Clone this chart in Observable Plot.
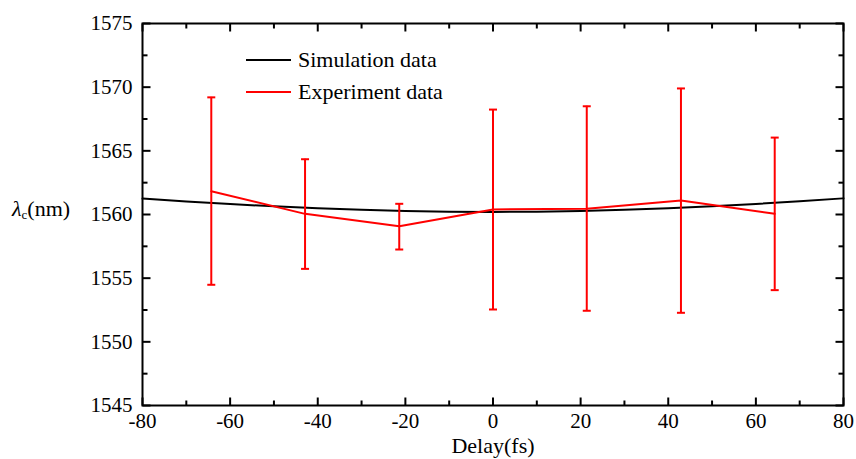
<!DOCTYPE html>
<html>
<head>
<meta charset="utf-8">
<script src="https://cdn.jsdelivr.net/npm/d3@7"></script>
<script src="https://cdn.jsdelivr.net/npm/@observablehq/plot@0.6"></script>
<style>
  html, body { margin: 0; padding: 0; background: #fff; }
  #wrap { position: relative; width: 856px; height: 459px; font-family: "Liberation Serif", serif; color: #000; }
  #wrap svg text { font-family: "Liberation Serif", serif !important; }
  #ylab { position: absolute; left: 12px; top: 196px; font-size: 22px; white-space: nowrap; }
  #ylab sub { font-size: 13px; vertical-align: -3px; }
  #legend { position: absolute; left: 246px; top: 44px; font-size: 22px; }
  #legend .row { display: flex; align-items: center; height: 32px; }
  #legend .sw { width: 45px; height: 0; border-top: 2px solid; margin-right: 7px; }
</style>
</head>
<body>
<div id="wrap"></div>
<script>
// Simulation data (Delay fs -> λc nm)
const simDelay = [-80, -70, -60, -50, -40, -30, -20, -10, 0, 10, 20, 30, 40, 50, 60, 70, 80];
const simLambda = [1561.25, 1561.02, 1560.82, 1560.64, 1560.49, 1560.37, 1560.28, 1560.22, 1560.2, 1560.22, 1560.28, 1560.37, 1560.5, 1560.65, 1560.83, 1561.04, 1561.27];

// Experiment data
const expDelay = [-64.3, -42.9, -21.4, 0, 21.4, 42.9, 64.3];
const expLambda = [1561.83, 1560.05, 1559.08, 1560.4, 1560.45, 1561.1, 1560.06];
const expLow = [1554.48, 1555.73, 1557.25, 1552.54, 1552.44, 1552.28, 1554.06];
const expHigh = [1569.2, 1564.34, 1560.84, 1568.24, 1568.5, 1569.9, 1566.04];

// Ticks
const xMajor = [-80, -60, -40, -20, 0, 20, 40, 60, 80];
const xMinor = [-70, -50, -30, -10, 10, 30, 50, 70];
const yMajor = [1545, 1550, 1555, 1560, 1565, 1570, 1575];
const yMinor = [1547.5, 1552.5, 1557.5, 1562.5, 1567.5, 1572.5];

const sim = simDelay.map((x, i) => ({x, y: simLambda[i]}));
const exp = expDelay.map((x, i) => ({x, y: expLambda[i], lo: expLow[i], hi: expHigh[i]}));

// pixel-based symbols
const lenOf = size => Math.sqrt(size / Math.PI);
const capSym = {draw(c, s) { const r = lenOf(s); c.moveTo(-r, 0); c.lineTo(r, 0); }};
const tickUp = {draw(c, s) { const r = lenOf(s); c.moveTo(0, 0); c.lineTo(0, -r); }};
const tickDown = {draw(c, s) { const r = lenOf(s); c.moveTo(0, 0); c.lineTo(0, r); }};
const tickRight = {draw(c, s) { const r = lenOf(s); c.moveTo(0, 0); c.lineTo(r, 0); }};
const tickLeft = {draw(c, s) { const r = lenOf(s); c.moveTo(0, 0); c.lineTo(-r, 0); }};

const ff = '"Liberation Serif", serif';

const chart = Plot.plot({
  width: 856,
  height: 459,
  marginLeft: 142,
  marginRight: 13,
  marginTop: 23,
  marginBottom: 54,
  style: {fontFamily: ff, fontSize: "21px", color: "#000", background: "#fff"},
  x: {domain: [-80, 80]},
  y: {domain: [1545, 1575]},
  marks: [
    Plot.axisX({ticks: xMajor, tickSize: 0, tickPadding: 8, tickFormat: d => String(d), label: null, fontSize: 21, fontFamily: ff, fill: "black"}),
    Plot.axisY({ticks: yMajor, tickSize: 0, tickPadding: 10, tickFormat: d => String(d), label: null, fontSize: 21, fontFamily: ff, fill: "black"}),
    // inward ticks
    Plot.dot(xMajor, {x: d => d, frameAnchor: "bottom", symbol: tickUp, r: 8, stroke: "black", strokeWidth: 2}),
    Plot.dot(xMinor, {x: d => d, frameAnchor: "bottom", symbol: tickUp, r: 5, stroke: "black", strokeWidth: 2}),
    Plot.dot(xMajor, {x: d => d, frameAnchor: "top", symbol: tickDown, r: 8, stroke: "black", strokeWidth: 2}),
    Plot.dot(xMinor, {x: d => d, frameAnchor: "top", symbol: tickDown, r: 5, stroke: "black", strokeWidth: 2}),
    Plot.dot(yMajor, {y: d => d, frameAnchor: "left", symbol: tickRight, r: 8, stroke: "black", strokeWidth: 2}),
    Plot.dot(yMinor, {y: d => d, frameAnchor: "left", symbol: tickRight, r: 5, stroke: "black", strokeWidth: 2}),
    Plot.dot(yMajor, {y: d => d, frameAnchor: "right", symbol: tickLeft, r: 8, stroke: "black", strokeWidth: 2}),
    Plot.dot(yMinor, {y: d => d, frameAnchor: "right", symbol: tickLeft, r: 5, stroke: "black", strokeWidth: 2}),
    // simulation
    Plot.line(sim, {x: "x", y: "y", stroke: "black", strokeWidth: 2, curve: "monotone-x"}),
    // error bars
    Plot.ruleX(exp, {x: "x", y1: "lo", y2: "hi", stroke: "#ff0000", strokeWidth: 2}),
    Plot.dot(exp, {x: "x", y: "lo", symbol: capSym, r: 4, stroke: "#ff0000", strokeWidth: 2}),
    Plot.dot(exp, {x: "x", y: "hi", symbol: capSym, r: 4, stroke: "#ff0000", strokeWidth: 2}),
    // experiment
    Plot.line(exp, {x: "x", y: "y", stroke: "#ff0000", strokeWidth: 2}),
    Plot.frame({stroke: "black", strokeWidth: 2}),
    Plot.text(["Delay(fs)"], {frameAnchor: "bottom", text: d => d, dy: 47, fontSize: 22, fontFamily: ff, fill: "black"})
  ]
});

const wrap = document.getElementById("wrap");
wrap.appendChild(chart);

const ylab = document.createElement("div");
ylab.id = "ylab";
ylab.innerHTML = '<i>λ</i><sub>c</sub>(nm)';
wrap.appendChild(ylab);

const legendItems = [
  {label: "Simulation data", color: "black"},
  {label: "Experiment data", color: "#ff0000"}
];
const legend = document.createElement("div");
legend.id = "legend";
legend.innerHTML = legendItems.map(d => `<div class="row"><span class="sw" style="border-color:${d.color}"></span><span>${d.label}</span></div>`).join("");
wrap.appendChild(legend);
</script>
</body>
</html>
